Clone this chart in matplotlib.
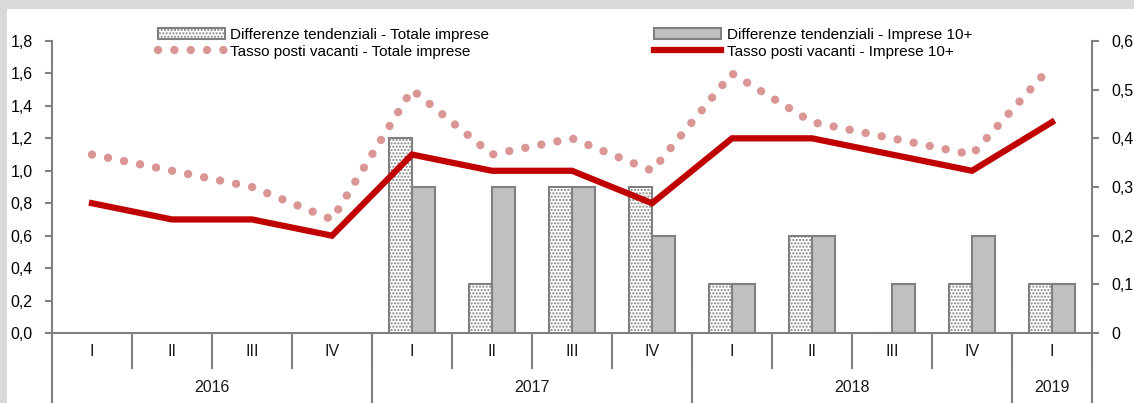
import matplotlib
matplotlib.use("Agg")
import matplotlib.pyplot as plt
from matplotlib.patches import Rectangle
import matplotlib.transforms as mtransforms
from matplotlib.ticker import FuncFormatter
import numpy as np

quarters = ["I", "II", "III", "IV", "I", "II", "III", "IV", "I", "II", "III", "IV", "I"]
years = ["2016", "2017", "2018", "2019"]
year_counts = [4, 4, 4, 1]

diff_totale = [np.nan, np.nan, np.nan, np.nan, 0.4, 0.1, 0.3, 0.3, 0.1, 0.2, 0.0, 0.1, 0.1]
diff_10 = [np.nan, np.nan, np.nan, np.nan, 0.3, 0.3, 0.3, 0.2, 0.1, 0.2, 0.1, 0.2, 0.1]
tasso_totale = [1.1, 1.0, 0.9, 0.7, 1.5, 1.1, 1.2, 1.0, 1.6, 1.3, 1.2, 1.1, 1.65]
tasso_10 = [0.8, 0.7, 0.7, 0.6, 1.1, 1.0, 1.0, 0.8, 1.2, 1.2, 1.1, 1.0, 1.3]

label_bar_tot = "Differenze tendenziali - Totale imprese"
label_bar_10 = "Differenze tendenziali - Imprese 10+"
label_line_tot = "Tasso posti vacanti - Totale imprese"
label_line_10 = "Tasso posti vacanti - Imprese 10+"

plt.rcParams['hatch.color'] = '#c4c4c4'
plt.rcParams['hatch.linewidth'] = 1.0
plt.rcParams['font.family'] = ['Liberation Sans', 'DejaVu Sans']

fig = plt.figure(figsize=(11.34, 4.03), dpi=100)
fig.patch.set_facecolor('#d9d9d9')
fig.patches.append(Rectangle((7/1134, 0), 1 - 7/1134, 1 - 9/403, transform=fig.transFigure,
                             facecolor='white', edgecolor='none', zorder=-10))

ax = fig.add_axes([52/1134, (403-333)/403, (1092-52)/1134, (333-41)/403])
ax2 = ax.twinx()
ax2.set_zorder(1)
ax.set_zorder(2)
ax.patch.set_visible(False)
ax2.patch.set_visible(False)

x = np.arange(len(quarters))
bw = 0.29
gray_edge = '#808080'
ax2.bar(x - bw/2, diff_totale, width=bw, facecolor='white', edgecolor=gray_edge,
        hatch='.....', linewidth=1.5, label=label_bar_tot)
ax2.bar(x + bw/2, diff_10, width=bw, facecolor='#c0c0c0', edgecolor=gray_edge,
        linewidth=1.5, label=label_bar_10)

ax.plot(x, tasso_totale, color='#d99694', lw=6.0, linestyle=(0, (0.01, 1.95)),
        dash_capstyle='round', label=label_line_tot)
ax.plot(x, tasso_10, color='#c00000', lw=4.5, solid_joinstyle='miter', label=label_line_10)

ax.set_xlim(-0.5, len(quarters) - 0.5)
ax.set_ylim(0, 1.8)
ax2.set_ylim(0, 0.6)
ax.set_yticks(np.arange(0, 1.81, 0.2))
ax2.set_yticks(np.arange(0, 0.61, 0.1))
ax.yaxis.set_major_formatter(FuncFormatter(lambda v, p: f"{v:.1f}".replace('.', ',')))
ax2.yaxis.set_major_formatter(FuncFormatter(lambda v, p: "0" if abs(v) < 1e-9 else f"{v:.1f}".replace('.', ',')))

for a in (ax, ax2):
    for s in a.spines.values():
        s.set_visible(False)
ax2.spines['right'].set_visible(True)
ax2.spines['right'].set_color(gray_edge)
ax2.spines['right'].set_linewidth(1.5)

ax.tick_params(axis='y', direction='out', length=5, width=1.5, color=gray_edge,
               labelsize=11.5, pad=9)
ax2.tick_params(axis='y', direction='out', length=5, width=1.5, color=gray_edge,
                labelsize=11.5, pad=9)
ax.set_xticks([])
ax2.set_xticks([])

trans = mtransforms.blended_transform_factory(ax.transData, ax.transAxes)
bottom_frac = -70/292.0
quarter_frac = -35/292.0
ax.plot([-0.5, -0.5], [1.0, bottom_frac], transform=trans, color=gray_edge, lw=1.5, clip_on=False)
ax.plot([-0.5 - 5/80, len(quarters) - 0.5], [0, 0], transform=trans, color=gray_edge, lw=1.5,
        clip_on=False, zorder=1)
for i, q in enumerate(quarters):
    ax.text(i, -18/292.0, q, transform=trans, ha='center', va='center', fontsize=11.5, color='#1a1a1a')
for i in range(1, len(quarters) + 1):
    ax.plot([i - 0.5, i - 0.5], [0, quarter_frac], transform=trans, color=gray_edge, lw=1.5, clip_on=False)
start = 0
for yname, cnt in zip(years, year_counts):
    end = start + cnt
    ax.plot([end - 0.5, end - 0.5], [0, bottom_frac], transform=trans, color=gray_edge, lw=1.5, clip_on=False)
    ax.text((start + end - 1) / 2, -54/292.0, yname, transform=trans, ha='center', va='center',
            fontsize=11.5, color='#1a1a1a')
    start = end

h1, l1 = ax2.get_legend_handles_labels()
h2, l2 = ax.get_legend_handles_labels()
handles = [h1[0], h2[0], h1[1], h2[1]]
labels = [l1[0], l2[0], l1[1], l2[1]]
leg = fig.legend(handles, labels, ncol=2, loc='upper left', bbox_to_anchor=(150/1134, 1 - 20/403),
                 frameon=False, prop={'size': 11},
                 handlelength=4.4, handleheight=0.7, handletextpad=0.35, columnspacing=10.8,
                 labelspacing=0.2, borderpad=0)

fig.savefig("out.png", dpi=100, facecolor=fig.get_facecolor())
